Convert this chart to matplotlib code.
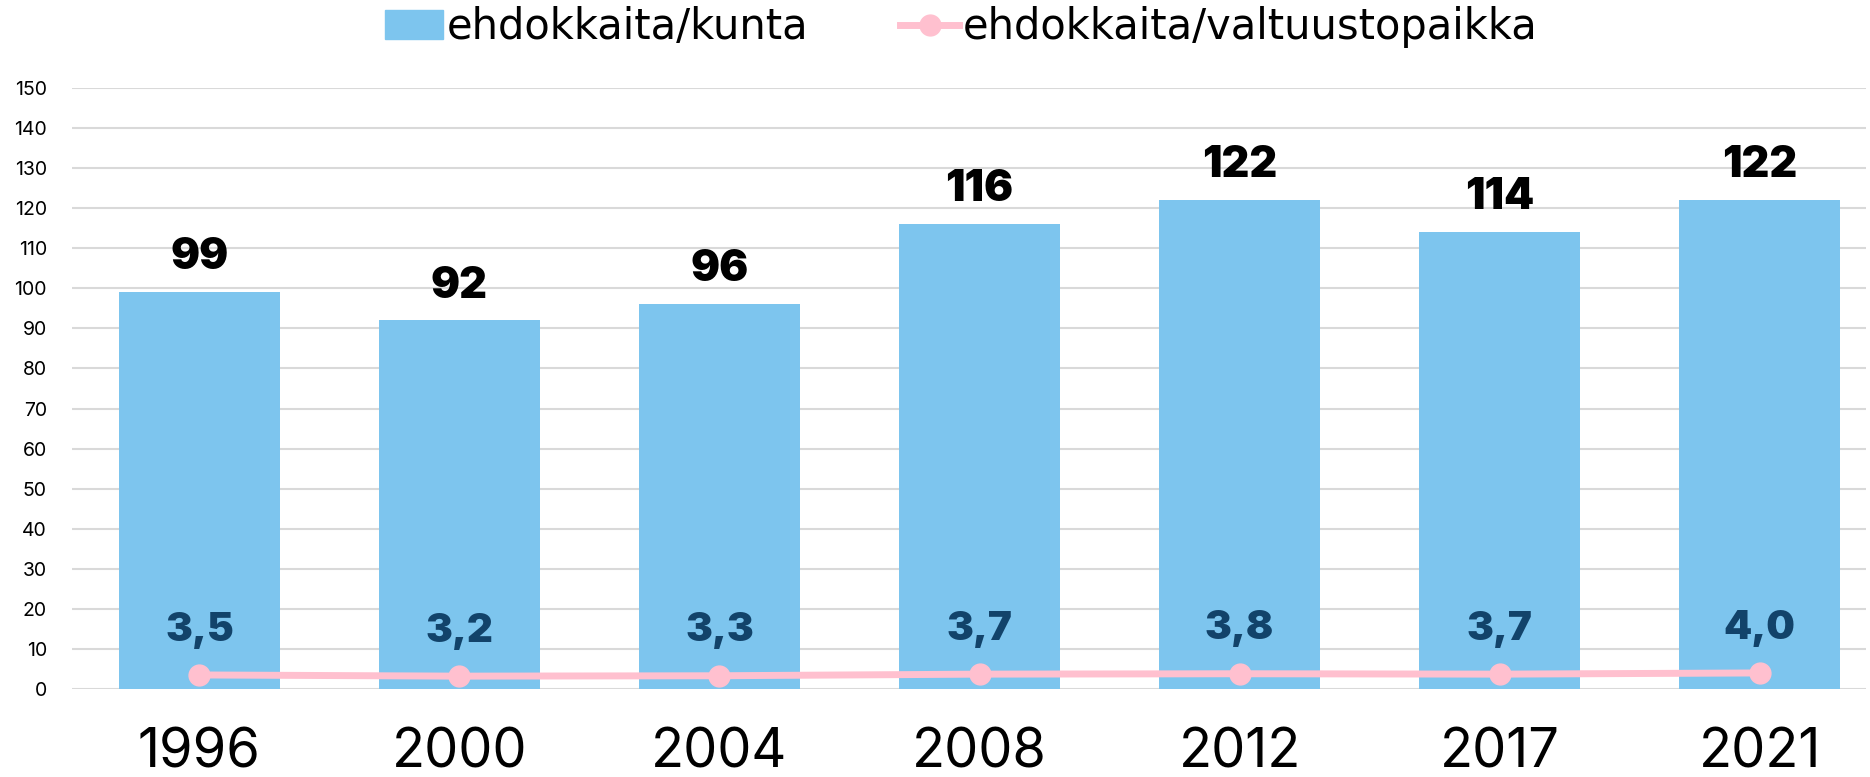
import matplotlib
matplotlib.use("Agg")
import matplotlib.pyplot as plt
from matplotlib.lines import Line2D
from matplotlib.patches import Patch

years = ["1996", "2000", "2004", "2008", "2012", "2017", "2021"]
per_municipality = [99, 92, 96, 116, 122, 114, 122]
per_seat = [3.5, 3.2, 3.3, 3.7, 3.8, 3.7, 4.0]
yticks = list(range(0, 151, 10))

bar_color = "#7DC5EE"
line_color = "#FFC0CF"
label_dark = "#12436A"

plt.rcParams['font.family'] = ['Inter', 'DejaVu Sans']

fig = plt.figure(figsize=(18.7, 7.77), dpi=100)
ax = fig.add_axes([0.0385, 0.1133, 0.9595, 0.7734])

x = list(range(len(years)))
ax.bar(x, per_municipality, width=0.62, color=bar_color, zorder=2)
ax.plot(x, per_seat, color=line_color, lw=5, marker="o", markersize=15, zorder=3)

for xi, v in zip(x, per_municipality):
    ax.annotate(f"{v}", (xi, v), xytext=(0, 10), textcoords="offset points",
                ha="center", va="bottom", fontsize=31, fontweight="black", color="black")
for xi, v in zip(x, per_seat):
    ax.annotate(f"{v:.1f}".replace(".", ","), (xi, v), xytext=(0, 19), textcoords="offset points",
                ha="center", va="bottom", fontsize=29, fontweight="black", color=label_dark)

ax.set_xlim(-0.49, 6.41)
ax.set_ylim(0, 150)
ax.set_yticks(yticks)
ax.set_xticks(x)
ax.set_xticklabels(years, fontsize=39)
ax.tick_params(axis="x", length=0, pad=28)
ax.tick_params(axis="y", length=0, labelsize=14, pad=18)
ax.grid(axis="y", color="#D9D9D9", lw=1.5, zorder=0)
ax.set_axisbelow(True)
for s in ax.spines.values():
    s.set_visible(False)

handles = [Patch(color=bar_color),
           Line2D([0], [0], color=line_color, lw=5, marker="o", markersize=15)]
fig.legend(handles, ["ehdokkaita/kunta", "ehdokkaita/valtuustopaikka"],
           loc="upper center", bbox_to_anchor=(0.514, 1.04), ncol=2, frameon=False,
           handlelength=1.4, handletextpad=0.1, columnspacing=2.2,
           prop={'family': ['DejaVu Sans'], 'size': 30})

fig.savefig("out.png", dpi=100, facecolor="white")
